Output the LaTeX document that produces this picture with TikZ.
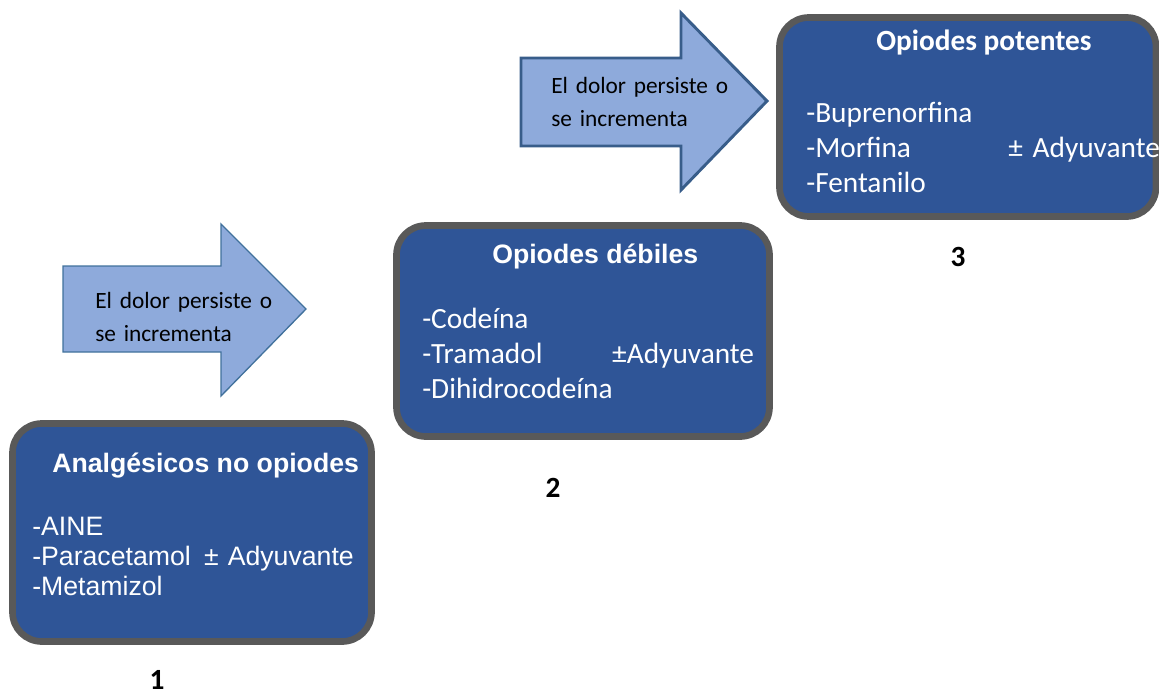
\documentclass[tikz,border=0pt]{standalone}
\usepackage{fontspec}
\setmainfont{Carlito}
\newfontfamily\arialfont{Liberation Sans}
\usepackage{tikz}
\usetikzlibrary{positioning}
\definecolor{Navy}{HTML}{2F5597}
\definecolor{DGray}{HTML}{595959}
\definecolor{LBlue}{HTML}{8EAADB}
\definecolor{Edge}{HTML}{41719C}
\definecolor{DEdge}{HTML}{385D8A}

\begin{document}
\begin{tikzpicture}[x=0.75pt, y=-0.75pt,
  caja/.style={draw=DGray, line width=5pt, fill=Navy, rounded corners=22pt, inner sep=0pt},
  flecha/.style={fill=LBlue, draw=Edge, line width=1pt, line join=miter},
  titulo/.style={anchor=base west, inner sep=0pt, text=white},
  lista/.style={anchor=base west, inner sep=0pt, text=white, align=left, text width=#1},
  nota/.style={anchor=base west, inner sep=0pt, align=left, text width=150pt,
    font=\fontsize{17.5}{25}\selectfont},
  paso/.style={anchor=base, inner sep=0pt, font=\fontsize{22}{26}\selectfont\bfseries}]
  \useasboundingbox (0,0) rectangle (1159,696);
  % Boxes
  \node[caja, minimum width=269.25pt, minimum height=163.5pt] (caja1) at (192,532.5) {};
  \node[caja, minimum width=279.75pt, minimum height=158.25pt] (caja2) at (583,331) {};
  \node[caja, minimum width=282.4pt, minimum height=149.25pt] (caja3) at (967.75,117) {};
  % Step 1
  \node[titulo, font=\arialfont\bfseries\fontsize{20}{24}\selectfont] (titulo1) at (52,472)
    {Analgésicos no opiodes};
  \node[lista=250pt, font=\arialfont\fontsize{20}{22.5}\selectfont] (lista1) at (32,535)
    {-AINE\\ \makebox[129pt][l]{-Paracetamol}± Adyuvante\\ -Metamizol};
  % Step 2
  \node[titulo, font=\arialfont\bfseries\fontsize{20}{24}\selectfont] (titulo2) at (492,263)
    {Opiodes débiles};
  \node[lista=260pt, font=\fontsize{22}{26.25}\selectfont] (lista2) at (422,328)
    {-Codeína\\ \makebox[142.5pt][l]{-Tramadol}±Adyuvante\\ -Dihidrocodeína};
  % Step 3
  \node[titulo, font=\fontsize{22}{26}\selectfont\bfseries] (titulo3) at (876,50)
    {Opiodes potentes};
  \node[lista=270pt, font=\fontsize{22}{26.6}\selectfont] (lista3) at (806,122)
    {-Buprenorfina\\ \makebox[151.5pt][l]{-Morfina}± Adyuvante\\ -Fentanilo};
  % Arrows
  \draw[flecha] (63,266) -- (221,266) -- (221,224) -- (306,309) -- (221,396)
    -- (221,352) -- (63,352) -- cycle;
  \node[nota] (nota1) at (95,308) {El dolor persiste o\\ se incrementa};
  \draw[flecha, draw=DEdge, line width=2.2pt] (521,58) -- (681,58) -- (681,13)
    -- (767,101) -- (681,190) -- (681,146) -- (521,146) -- cycle;
  \node[nota] (nota2) at (551,93) {El dolor persiste o\\ se incrementa};
  % Step numbers
  \node[paso] (num1) at (157,689) {1};
  \node[paso] (num2) at (553,497) {2};
  \node[paso] (num3) at (958,266) {3};
\end{tikzpicture}
\end{document}
